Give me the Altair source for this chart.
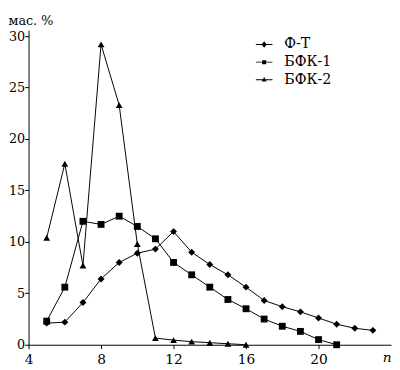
import altair as alt
import pandas as pd

series_names = ["Ф-Т", "БФК-1", "БФК-2"]

n_ft = list(range(5, 24))
ft = [2.1, 2.2, 4.1, 6.4, 8.0, 8.9, 9.3, 11.0, 9.0, 7.8, 6.8, 5.6, 4.3, 3.7, 3.2, 2.6, 2.0, 1.6, 1.4]
n_b1 = list(range(5, 22))
b1 = [2.3, 5.6, 12.0, 11.7, 12.5, 11.5, 10.3, 8.0, 6.8, 5.6, 4.4, 3.5, 2.5, 1.8, 1.3, 0.5, 0.0]
n_b2 = list(range(5, 17))
b2 = [10.4, 17.6, 7.7, 29.2, 23.3, 9.8, 0.65, 0.45, 0.3, 0.2, 0.1, 0.0]

x_ticks = [4, 8, 12, 16, 20]
y_ticks = [0, 5, 10, 15, 20, 25, 30]

rows = []
for name, xs, ys in zip(series_names, [n_ft, n_b1, n_b2], [ft, b1, b2]):
    for x, y in zip(xs, ys):
        rows.append({"series": name, "n": x, "v": y})
df = pd.DataFrame(rows)

FONT = "DejaVu Serif"

x_enc = alt.X("n:Q", scale=alt.Scale(domain=[4, 24], nice=False, zero=False),
              axis=alt.Axis(values=x_ticks, title="n", titleFontStyle="italic",
                            titleFontWeight="normal", titleFontSize=14, titleFont=FONT,
                            titleColor="black",
                            titleX=361, titleY=17, titleAlign="left",
                            titleBaseline="alphabetic",
                            labelFontSize=14, labelFont=FONT, labelColor="black",
                            tickSize=4, tickColor="black", domainColor="black",
                            labelPadding=4, grid=False, labelFlush=False))
y_enc = alt.Y("v:Q", scale=alt.Scale(domain=[0, 30.57], nice=False),
              axis=alt.Axis(values=y_ticks, title="мас. %", titleAngle=0,
                            titleFontWeight="normal", titleFontSize=13, titleFont=FONT,
                            titleColor="black",
                            titleX=-21, titleY=-6, titleAlign="left",
                            titleBaseline="alphabetic",
                            labelFontSize=13, labelFont=FONT, labelColor="black",
                            tickSize=4, tickColor="black", domainColor="black",
                            labelPadding=0, grid=False))

lines = alt.Chart(df).mark_line(color="black", strokeWidth=1).encode(
    x=x_enc, y=y_enc, detail="series:N"
)

points = alt.Chart(df).mark_point(filled=True, color="black", opacity=1).encode(
    x="n:Q", y="v:Q",
    shape=alt.Shape("series:N", sort=series_names,
                    scale=alt.Scale(domain=series_names,
                                    range=["diamond", "square", "triangle-up"]),
                    legend=None),
    size=alt.Size("series:N", sort=series_names,
                  scale=alt.Scale(domain=series_names, range=[50, 48, 62]),
                  legend=None)
)

leg_paths = [
    "M-1,-0.05H1V0.05H-1ZM0,-0.38L0.3,0L0,0.38L-0.3,0Z",
    "M-1,-0.05H1V0.05H-1ZM-0.24,-0.24H0.24V0.24H-0.24Z",
    "M-1,-0.05H1V0.05H-1ZM0,-0.34L0.3,0.2H-0.3Z",
]

legend_layer = alt.Chart(df).mark_point(filled=True, color="black", opacity=0).encode(
    x="n:Q", y="v:Q",
    shape=alt.Shape("series:N", sort=series_names,
                    scale=alt.Scale(domain=series_names, range=leg_paths),
                    legend=alt.Legend(title=None, orient="none", legendX=232, legendY=6,
                                      symbolSize=289, symbolOpacity=1,
                                      symbolFillColor="black", symbolStrokeColor="black",
                                      symbolStrokeWidth=0, labelFont=FONT,
                                      labelFontSize=14.5,
                                      labelColor="black", labelOffset=12, rowPadding=3,
                                      padding=0))
)

chart = alt.layer(lines, points, legend_layer).resolve_scale(
    shape="independent", size="independent"
).properties(
    width=370, height=321,
    autosize=alt.AutoSizeParams(type="none"),
    padding={"left": 21, "top": 19, "right": 1, "bottom": 22},
    background="white",
).configure_view(stroke=None)

chart.save("out.html", embed_options={"renderer": "svg", "actions": False})
